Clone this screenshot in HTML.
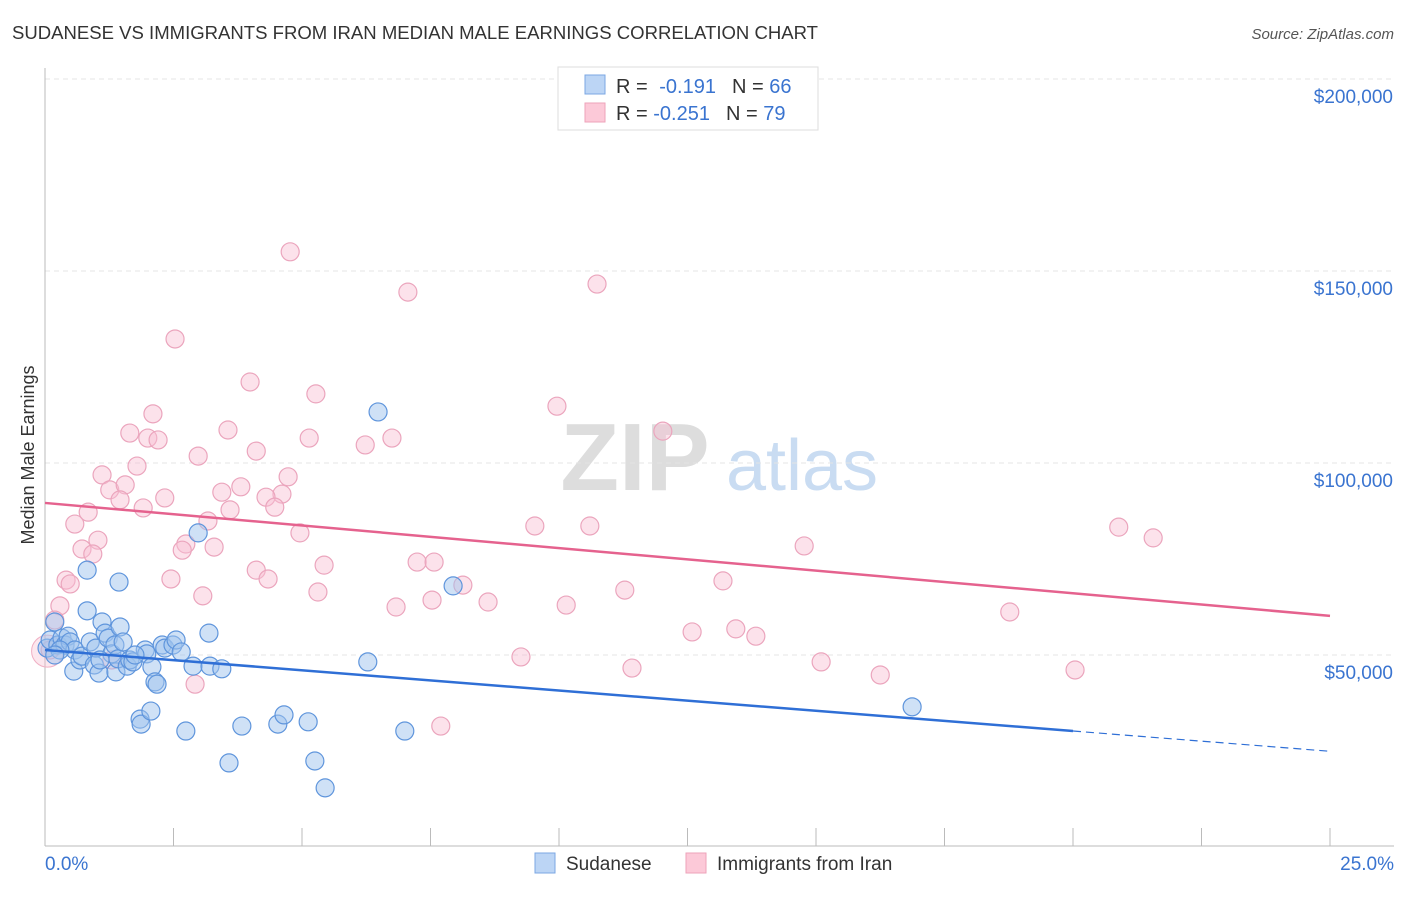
<!DOCTYPE html>
<html><head><meta charset="utf-8"><style>
body{margin:0;background:#fff;font-family:"Liberation Sans",sans-serif;}
svg text{font-family:"Liberation Sans",sans-serif;}
</style></head><body>
<svg id="chart" width="1406" height="892" viewBox="0 0 1406 892" xmlns="http://www.w3.org/2000/svg">
<text x="12" y="39" font-size="18" fill="#333" textLength="806" lengthAdjust="spacingAndGlyphs">SUDANESE VS IMMIGRANTS FROM IRAN MEDIAN MALE EARNINGS CORRELATION CHART</text>
<text x="1394" y="39" font-size="15" fill="#555" font-style="italic" text-anchor="end">Source: ZipAtlas.com</text>
<g>
<text x="635" y="490" font-size="96" fill="#ddd" font-family="Liberation Serif" text-anchor="middle" font-weight="bold">ZIP</text>
<text x="802" y="490" font-size="72" fill="#c9dcf2" text-anchor="middle">atlas</text>
</g>
<g id="grid"></g>
<g id="axes"></g>
<text transform="translate(34,455) rotate(-90)" font-size="18" fill="#333" text-anchor="middle">Median Male Earnings</text>
<g id="marks"></g>
<g id="trends"></g>
<g>
<rect x="558" y="67" width="260" height="63" fill="#fff" stroke="#ddd"/>
<rect x="585" y="75" width="20" height="19" fill="#bcd5f5" stroke="#7ba7e3"/>
<rect x="585" y="103" width="20" height="19" fill="#fcc9d8" stroke="#eea3ba"/>
<text x="616" y="93" font-size="20" fill="#333">R = <tspan fill="#3a74d0" dx="6">-0.191</tspan><tspan dx="16" fill="#333">N = </tspan><tspan fill="#3a74d0">66</tspan></text>
<text x="616" y="120" font-size="20" fill="#333">R = <tspan fill="#3a74d0">-0.251</tspan><tspan dx="16" fill="#333">N = </tspan><tspan fill="#3a74d0">79</tspan></text>
</g>
<g>
<rect x="535" y="853" width="20" height="20" fill="#bcd5f5" stroke="#7ba7e3"/>
<text x="566" y="870" font-size="19" fill="#333">Sudanese</text>
<rect x="686" y="853" width="20" height="20" fill="#fcc9d8" stroke="#eea3ba"/>
<text x="717" y="870" font-size="19" fill="#333">Immigrants from Iran</text>
</g>
</svg>
<script>
const xTicks=[0,2.5,5,7.5,10,12.5,15,17.5,20,22.5,25];
const yTicks=[50,100,150,200];
const yTickLabels=["$50,000","$100,000","$150,000","$200,000"];
const xEndLabels=["0.0%","25.0%"];
const sudX=[0.04,0.10,0.19,0.25,0.33,0.39,0.45,0.49,0.56,0.58,0.68,0.72,0.82,0.82,0.88,0.96,0.99,1.05,1.11,1.17,1.23,1.30,1.36,1.38,1.42,1.44,1.46,1.52,1.60,1.65,1.71,1.85,1.87,1.95,1.98,2.06,2.08,2.14,2.18,2.28,2.33,2.49,2.55,2.65,2.74,2.88,2.98,3.19,3.21,3.44,3.58,3.83,4.53,4.65,5.12,5.25,5.45,6.28,6.48,7.00,7.94,16.87,0.29,0.19,1.07,1.75];
const sudY=[51.8,53.9,58.6,52.6,54.4,52.6,54.9,53.4,45.8,51.3,48.7,49.7,72.1,61.5,53.4,47.4,51.8,45.3,58.6,55.7,54.4,50.3,52.6,45.6,49.0,69.0,57.3,53.4,47.1,48.7,48.2,33.3,32.0,51.3,50.3,35.4,46.9,43.0,42.4,52.6,51.8,52.6,53.9,50.8,30.2,47.1,81.8,55.7,47.1,46.4,21.9,31.5,32.0,34.4,32.6,22.4,15.4,48.2,113.3,30.2,68.0,36.5,51.3,50.0,48.7,50.0];
const iranX=[4.77,7.06,10.74,2.53,3.99,5.27,9.96,2.10,1.65,3.56,2.00,2.20,5.14,6.75,6.23,12.02,4.11,2.98,1.79,1.11,4.73,3.81,3.44,1.26,1.56,2.33,4.61,4.30,1.46,1.91,0.84,4.47,3.60,3.17,0.58,9.53,10.60,4.96,20.89,21.56,1.03,2.74,3.29,2.67,0.72,0.93,14.77,4.11,5.43,7.24,7.57,4.34,2.45,0.41,0.49,8.13,13.19,3.07,5.31,11.28,7.53,8.62,6.83,10.14,0.29,18.77,0.19,12.59,13.44,13.83,9.26,11.42,15.10,20.04,16.25,2.92,7.70,0.10,1.30];
const iranY=[155.0,144.5,146.6,132.3,121.1,118.0,114.8,112.8,107.8,108.6,106.5,106.0,106.5,106.5,104.7,108.3,103.1,101.8,99.2,96.9,96.4,93.8,92.4,93.0,94.3,90.9,91.9,91.1,90.4,88.3,87.2,88.5,87.8,84.9,84.1,83.6,83.6,81.8,83.3,80.5,79.9,78.9,78.1,77.3,77.6,76.3,78.4,72.1,73.4,74.2,74.2,69.8,69.8,69.5,68.5,68.2,69.3,65.4,66.4,66.9,64.3,63.8,62.5,63.0,62.8,61.2,59.1,56.0,56.8,54.9,49.5,46.6,48.2,46.1,44.8,42.4,31.5,51.3,48.7];
const sudTrend=[51.3,30.2];   // y at x=0 and x=20
const iranTrend=[89.6,60.2];  // y at x=0 and x=25
const NS="http://www.w3.org/2000/svg";
const X0=45,X1=1330,Y0=847,PXK=3.84;
const sx=v=>X0+(v/25)*(X1-X0);
const sy=v=>Y0-v*PXK;
function mk(tag,attrs,parent){const e=document.createElementNS(NS,tag);for(const k in attrs)e.setAttribute(k,attrs[k]);parent.appendChild(e);return e;}
const grid=document.getElementById('grid'),axes=document.getElementById('axes'),marks=document.getElementById('marks'),trends=document.getElementById('trends');
yTicks.forEach((t,i)=>{
  const l=mk('line',{x1:X0,x2:1394,y1:sy(t),y2:sy(t),stroke:'#e4e4e4','stroke-dasharray':'5,4'},grid);
  
  
  const tx=mk('text',{x:1393,y:sy(t)+24,'font-size':19,fill:'#3a74d0','text-anchor':'end'},axes);
  tx.textContent=yTickLabels[i];
  
  
});
const topg=mk('line',{x1:X0,x2:1394,y1:79,y2:79,stroke:'#e4e4e4','stroke-dasharray':'5,4'},grid);


const ya=mk('line',{x1:X0,x2:X0,y1:68,y2:846,stroke:'#bbb'},axes);


const xa=mk('line',{x1:X0,x2:1394,y1:846,y2:846,stroke:'#bbb'},axes);


xTicks.forEach(t=>{
  const l=mk('line',{x1:sx(t),x2:sx(t),y1:828,y2:846,stroke:'#bbb'},axes);
  
  
});
const xl0=mk('text',{x:45,y:870,'font-size':19,fill:'#3a74d0'},axes);xl0.textContent=xEndLabels[0];


const xl1=mk('text',{x:1394,y:870,'font-size':19,fill:'#3a74d0','text-anchor':'end'},axes);xl1.textContent=xEndLabels[1];


const big=mk('circle',{cx:sx(0.05),cy:sy(51),r:16,fill:'rgba(245,185,205,0.35)',stroke:'#f0b0c4'},marks);


iranX.forEach((x,i)=>{
  const c=mk('circle',{cx:sx(x),cy:sy(iranY[i]),r:9,fill:'rgba(248,190,210,0.45)',stroke:'#eba5bd','stroke-width':1.2},marks);
  
  
});
sudX.forEach((x,i)=>{
  const c=mk('circle',{cx:sx(x),cy:sy(sudY[i]),r:9,fill:'rgba(160,195,238,0.5)',stroke:'#5f95dc','stroke-width':1.2},marks);
  
  
});
const slope=(sudTrend[1]-sudTrend[0])/20;
const bt=mk('line',{x1:sx(0),y1:sy(sudTrend[0]),x2:sx(20),y2:sy(sudTrend[1]),stroke:'#2f6fd6','stroke-width':2.5},trends);


const bd=mk('line',{x1:sx(20),y1:sy(sudTrend[1]),x2:sx(25),y2:sy(sudTrend[1]+slope*5),stroke:'#2f6fd6','stroke-width':1.2,'stroke-dasharray':'8,5'},trends);


const pt=mk('line',{x1:sx(0),y1:sy(iranTrend[0]),x2:sx(25),y2:sy(iranTrend[1]),stroke:'#e5628e','stroke-width':2.5},trends);


</script>
</body></html>
